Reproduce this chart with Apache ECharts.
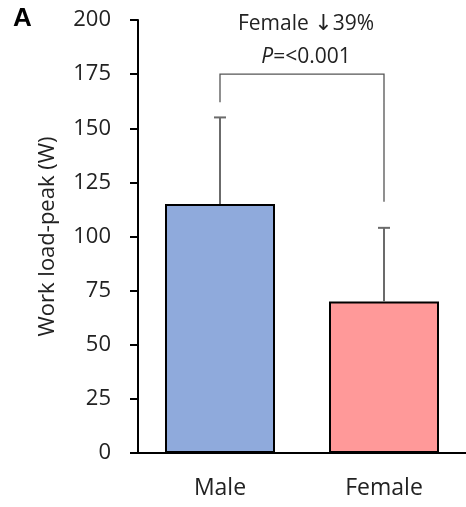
<!DOCTYPE html>
<html lang="en">
<head>
    <meta charset="UTF-8">
    <title>Work load-peak</title>
    <script src="https://cdn.jsdelivr.net/npm/echarts@6/dist/echarts.min.js"></script>
</head>
<body style="margin:0">
<div id="main" style="width: 466px;height:507px;"></div>
</body>
</html>

<script type="text/javascript">
    var categories = ['Male', 'Female'];
    var means = [115, 70];
    var sdUpper = [155, 104];
    var barColors = ['#8FAADC', '#FF9999'];
    // significance bracket: left foot, top, right foot
    var bracketLevels = [162, 175, 116];
    var yTicks = [0, 25, 50, 75, 100, 125, 150, 175, 200];

    var font = '"Open Sans", "DejaVu Sans", sans-serif';
    var myChart = echarts.init(document.getElementById('main'));

    var option = {
        animation: false,
        grid: { left: 138, right: 0, top: 20, bottom: 54 },
        xAxis: {
            type: 'category',
            data: categories,
            axisLine: { lineStyle: { color: '#000', width: 2 } },
            axisTick: { show: false },
            axisLabel: { color: '#222', fontSize: 23, fontFamily: font, margin: 24 }
        },
        yAxis: {
            type: 'value',
            min: yTicks[0],
            max: yTicks[yTicks.length - 1],
            interval: 25,
            name: 'Work load-peak (W)',
            nameLocation: 'middle',
            nameGap: 79,
            nameTextStyle: { color: '#222', fontSize: 22, fontFamily: font },
            splitLine: { show: false },
            axisLine: { show: true, lineStyle: { color: '#000', width: 2 } },
            axisTick: { show: true, length: 8, lineStyle: { color: '#000', width: 2 } },
            axisLabel: { color: '#222', fontSize: 22, fontFamily: font, margin: 27 }
        },
        graphic: [
            { type: 'text', left: 13, top: 6, style: { text: 'A', font: 'bold 26px "Liberation Sans", Arial, sans-serif', fill: '#000' } },
            { type: 'text', x: 306, y: 24, style: {
                text: 'Female {a|\u2193}39%', align: 'center', verticalAlign: 'middle',
                font: '21px ' + font, fill: '#222',
                rich: { a: { fontSize: 22, fontFamily: '"DejaVu Sans", sans-serif', fill: '#222' } }
            } },
            { type: 'text', x: 306, y: 57, style: {
                text: '{i|P}=<0.001', align: 'center', verticalAlign: 'middle',
                font: '21px ' + font, fill: '#222',
                rich: { i: { fontStyle: 'italic', fontSize: 21, fontFamily: font, fill: '#222' } }
            } }
        ],
        series: [
            {
                type: 'bar',
                barWidth: 110,
                data: means.map(function (v, i) {
                    return { value: v, itemStyle: { color: barColors[i], borderColor: '#000', borderWidth: 2 } };
                })
            },
            {
                type: 'custom',
                data: means.map(function (v, i) { return [i, v, sdUpper[i]]; }),
                renderItem: function (params, api) {
                    var base = api.coord([api.value(0), api.value(1)]);
                    var top = api.coord([api.value(0), api.value(2)]);
                    var style = { stroke: '#6b6b6b', lineWidth: 2 };
                    return {
                        type: 'group',
                        children: [
                            { type: 'line', shape: { x1: base[0], y1: base[1], x2: top[0], y2: top[1] }, style: style },
                            { type: 'line', shape: { x1: top[0] - 6, y1: top[1], x2: top[0] + 6, y2: top[1] }, style: style }
                        ]
                    };
                },
                z: 3
            },
            {
                type: 'custom',
                data: [[0, bracketLevels[0], 1, bracketLevels[1], bracketLevels[2]]],
                renderItem: function (params, api) {
                    var a = api.coord([api.value(0), api.value(1)]);
                    var b = api.coord([api.value(0), api.value(3)]);
                    var c = api.coord([api.value(2), api.value(3)]);
                    var d = api.coord([api.value(2), api.value(4)]);
                    return {
                        type: 'polyline',
                        shape: { points: [a, b, c, d] },
                        style: { stroke: '#555', lineWidth: 1.3, fill: null }
                    };
                }
            }
        ]
    };

    myChart.setOption(option);
</script>
